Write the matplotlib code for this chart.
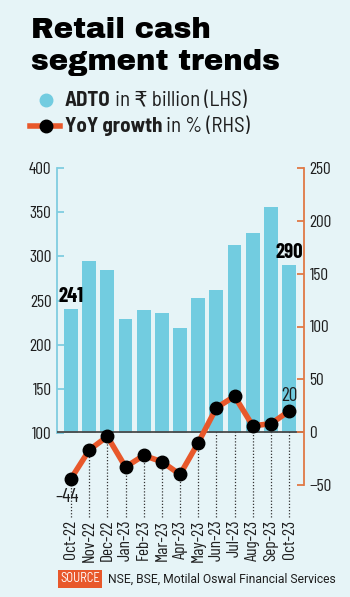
import numpy as np
import matplotlib.pyplot as plt
from matplotlib.lines import Line2D

###### DATA ######
months = ["Oct-22", "Nov-22", "Dec-22", "Jan-23", "Feb-23", "Mar-23", "Apr-23",
          "May-23", "Jun-23", "Jul-23", "Aug-23", "Sep-23", "Oct-23"]
adto = [241, 295, 285, 229, 239, 236, 219, 253, 262, 313, 326, 356, 290]   # Rs bn (LHS)
growth = [-44, -17, -4, -33, -22, -28, -40, -10, 23, 34, 6, 8, 20]        # YoY % (RHS)
left_ticks = [100, 150, 200, 250, 300, 350, 400]
right_ticks = [-50, 0, 50, 100, 150, 200, 250]

###### STYLE ######
BG = "#E6F4F7"
BAR = "#72CCE0"
ORANGE = "#E8582B"
DARK = "#1E1E1E"
NARROW = ["Barlow Condensed", "Roboto Condensed", "DejaVu Sans"]
SEMI = ["Barlow Semi Condensed", "Barlow Condensed", "DejaVu Sans"]
TITLE = ["Archivo Black", "Roboto", "DejaVu Sans"]
plt.rcParams['font.family'] = NARROW

W, H = 350, 597
fig = plt.figure(figsize=(W / 100, H / 100), dpi=100, facecolor=BG)

def fx(px):
    return px / W

def fy(py):
    return 1 - py / H

ax = fig.add_axes([fx(57), fy(485), fx(304) - fx(57), fy(168) - fy(485)])
ax.set_facecolor("none")
x = np.arange(len(months))
base = 100

# bars on left axis, starting at 100
ax.bar(x, np.array(adto) - base, bottom=base, width=0.76, color=BAR, zorder=2)
ax.set_xlim(-0.77, 12.82)
ax.set_ylim(41.4, 400)

ax2 = ax.twinx()
ax2.set_ylim(-50, 250)

###### AXES ######
for s in ["top", "right", "bottom"]:
    ax.spines[s].set_visible(False)
ax.spines["left"].set_bounds(100, 400)
ax.spines["left"].set_color("#80CDE0")
ax.spines["left"].set_linewidth(1.3)
for s in ["top", "left", "bottom"]:
    ax2.spines[s].set_visible(False)
ax2.spines["right"].set_bounds(-50, 250)
ax2.spines["right"].set_color("#E07845")
ax2.spines["right"].set_linewidth(1.3)

ax.set_yticks(left_ticks)
ax.tick_params(axis="y", direction="in", length=5, width=1.3, color="#80CDE0",
               labelsize=12.5, labelcolor=DARK, pad=4)
ax2.set_yticks(right_ticks)
ax2.tick_params(axis="y", direction="in", length=5, width=1.3, color="#E07845",
                labelsize=12.5, labelcolor=DARK, pad=4)
ax.set_xticks(x, months, rotation=90)
ax.tick_params(axis="x", length=0, pad=25, labelsize=12.5, labelcolor=DARK)

# zero line and dotted guides
ax2.axhline(0, color="#4A4A4A", lw=1.3, zorder=1)
ax2.vlines(x, -80, np.minimum(growth, 0), colors="#333333",
           linestyles=(0, (1, 1.5)), lw=0.9, clip_on=False, zorder=1)

# growth line
ax2.plot(x, growth, color=ORANGE, lw=4, marker="o", ms=9, mfc="black",
         mec="black", clip_on=False, zorder=3)

###### DATA LABELS ######
for i in [0, len(adto) - 1]:
    ax.annotate(str(adto[i]), (x[i], adto[i]), xytext=(0, 2), textcoords="offset points",
                ha="center", va="bottom", fontsize=15, fontweight="bold", color="black")
ax2.annotate(str(growth[-1]), (x[-1], growth[-1]), xytext=(0, 4), textcoords="offset points",
             ha="center", va="bottom", fontsize=14, color=DARK)
ax2.annotate(str(growth[0]).replace("-", "\u2013"), (x[0], growth[0]), xytext=(-3, -7),
             textcoords="offset points", ha="center", va="top", fontsize=14, color=DARK)

###### TITLE ######
title_font = dict(family=TITLE, fontsize=21, color="black")
fig.text(fx(31), fy(38), "Retail cash", va="baseline", ha="left", **title_font)
fig.text(fx(31), fy(70), "segment trends", va="baseline", ha="left", **title_font)

###### LEGEND ######
fig.add_artist(Line2D([fx(46)], [fy(100)], marker="o", ms=9, color=BAR, lw=0,
                      transform=fig.transFigure))
fig.add_artist(Line2D([fx(30), fx(60)], [fy(126), fy(126)], color=ORANGE, lw=4,
                      transform=fig.transFigure))
fig.add_artist(Line2D([fx(46)], [fy(126)], marker="o", ms=9, color="black", lw=0,
                      transform=fig.transFigure))

legend_rows = [("ADTO", " in \u20b9 billion (LHS)", 100),
               ("YoY growth", " in % (RHS)", 126)]
fig.canvas.draw()
renderer = fig.canvas.get_renderer()
for bold, rest, py in legend_rows:
    t = fig.text(fx(65), fy(py), bold, va="center", ha="left", fontsize=15,
                 fontweight="bold", color=DARK, family=SEMI)
    bb = t.get_window_extent(renderer=renderer)
    fig.text(bb.x1 / W, fy(py), rest, va="center", ha="left", fontsize=15,
             color=DARK, family=SEMI)

###### SOURCE ######
fig.text(fx(60), fy(579), "SOURCE", va="center", ha="left", fontsize=9, color="white",
         family=SEMI, bbox=dict(boxstyle="square,pad=0.2", fc=ORANGE, ec="none"))
fig.text(fx(108), fy(579), "NSE, BSE, Motilal Oswal Financial Services", va="center",
         ha="left", fontsize=8.7, color=DARK, family=["Roboto", "DejaVu Sans"])

fig.savefig("out.png", dpi=100, facecolor=BG)
